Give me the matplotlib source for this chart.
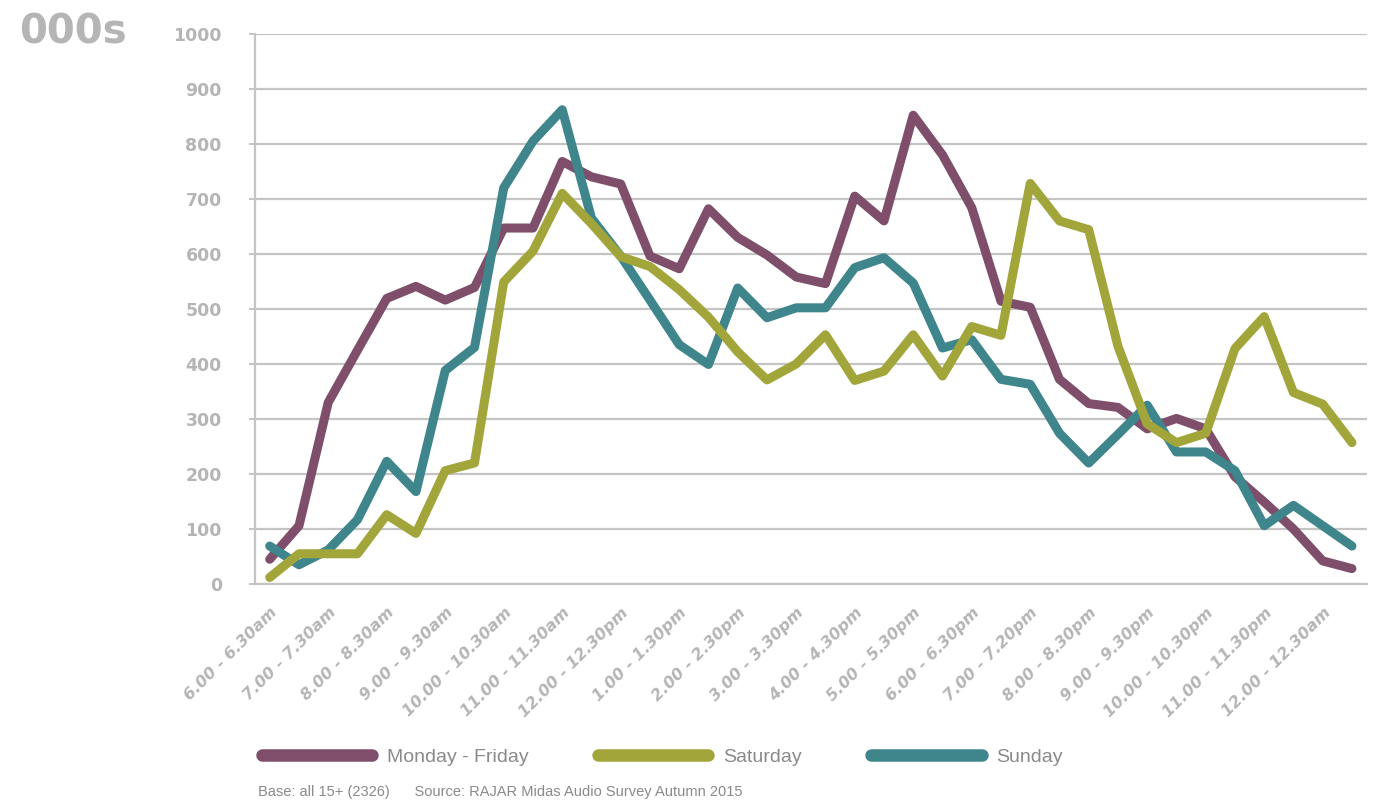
import numpy as np
import matplotlib.pyplot as plt
from matplotlib.lines import Line2D

# half-hour slots from 6.00am to 12.30am (38 slots), every second one labelled
slot_labels = [
    "6.00 - 6.30am", "7.00 - 7.30am", "8.00 - 8.30am", "9.00 - 9.30am",
    "10.00 - 10.30am", "11.00 - 11.30am", "12.00 - 12.30pm", "1.00 - 1.30pm",
    "2.00 - 2.30pm", "3.00 - 3.30pm", "4.00 - 4.30pm", "5.00 - 5.30pm",
    "6.00 - 6.30pm", "7.00 - 7.20pm", "8.00 - 8.30pm", "9.00 - 9.30pm",
    "10.00 - 10.30pm", "11.00 - 11.30pm", "12.00 - 12.30am",
]

mon_fri = [45, 106, 330, 425, 519, 541, 516, 539, 647, 647,
           768, 740, 727, 596, 573, 682, 630, 598, 558, 546,
           705, 660, 852, 780, 684, 514, 503, 372, 328, 321,
           282, 301, 282, 195, 149, 100, 42, 28]
saturday = [12, 55, 55, 55, 126, 92, 206, 220, 549, 605,
            710, 655, 595, 577, 535, 485, 422, 371, 400, 453,
            370, 387, 453, 378, 468, 452, 728, 660, 644, 432,
            291, 257, 274, 428, 486, 348, 327, 257]
sunday = [69, 35, 62, 117, 223, 168, 388, 430, 720, 805,
          862, 665, 596, 516, 435, 399, 538, 484, 502, 502,
          575, 593, 547, 429, 444, 372, 363, 274, 220, 272,
          325, 240, 240, 206, 106, 143, 106, 69]

series_names = ["Monday - Friday", "Saturday", "Sunday"]
colors = ["#7e4e6a", "#a1a53a", "#3e858c"]

GREY = "#b5b5b5"
TEXT_GREY = "#8a8a8a"

fig = plt.figure(figsize=(13.79, 8.05), dpi=100)
ax = fig.add_axes([0.185, 0.2745, 0.806, 0.6835])

x = np.arange(len(mon_fri))
lw = 6.5
ax.plot(x, mon_fri, color=colors[0], lw=lw, solid_capstyle="round",
        solid_joinstyle="round", zorder=3)
ax.plot(x, sunday, color=colors[2], lw=lw, solid_capstyle="round",
        solid_joinstyle="round", zorder=4)
ax.plot(x, saturday, color=colors[1], lw=lw, solid_capstyle="round",
        solid_joinstyle="round", zorder=5)

ax.set_xlim(-0.5, len(x) - 0.5)
ax.set_ylim(0, 1000)
ax.set_yticks(np.arange(0, 1001, 100))
ax.yaxis.grid(True, color="#c4c4c4", lw=1.6)
ax.set_axisbelow(True)

for side in ["top", "right"]:
    ax.spines[side].set_visible(False)
for side in ["left", "bottom"]:
    ax.spines[side].set_color("#c4c4c4")
    ax.spines[side].set_linewidth(1.6)

ax.tick_params(axis="y", length=4, width=1.4, color="#c4c4c4", pad=20,
               labelsize=12.5, labelcolor=GREY)
for t in ax.get_yticklabels():
    t.set_fontweight("bold")

ax.set_xticks(x[::2])
ax.set_xticklabels(slot_labels, rotation=45, ha="right",
                   rotation_mode="anchor", fontsize=11.5, color=GREY,
                   fontweight="bold", style="italic")
ax.tick_params(axis="x", length=0, pad=15)

fig.text(0.014, 0.984, "000s", fontsize=29, fontweight="bold", color=GREY,
         va="top", ha="left")

handles = [Line2D([0], [0], color=c, lw=9, solid_capstyle="round") for c in colors]
fig.legend(handles, series_names, loc="center left",
           bbox_to_anchor=(0.177, 0.06), ncol=3, frameon=False,
           handlelength=5.7, handletextpad=0.75, columnspacing=3.55,
           prop={"family": ["Liberation Sans", "DejaVu Sans"], "size": 14},
           labelcolor=TEXT_GREY)

fig.text(0.187, 0.008, "Base: all 15+ (2326)      Source: RAJAR Midas Audio Survey Autumn 2015",
         fontsize=10.5, color=TEXT_GREY, va="bottom", ha="left",
         family=["Liberation Sans", "DejaVu Sans"])

fig.savefig("out.png", dpi=100)
